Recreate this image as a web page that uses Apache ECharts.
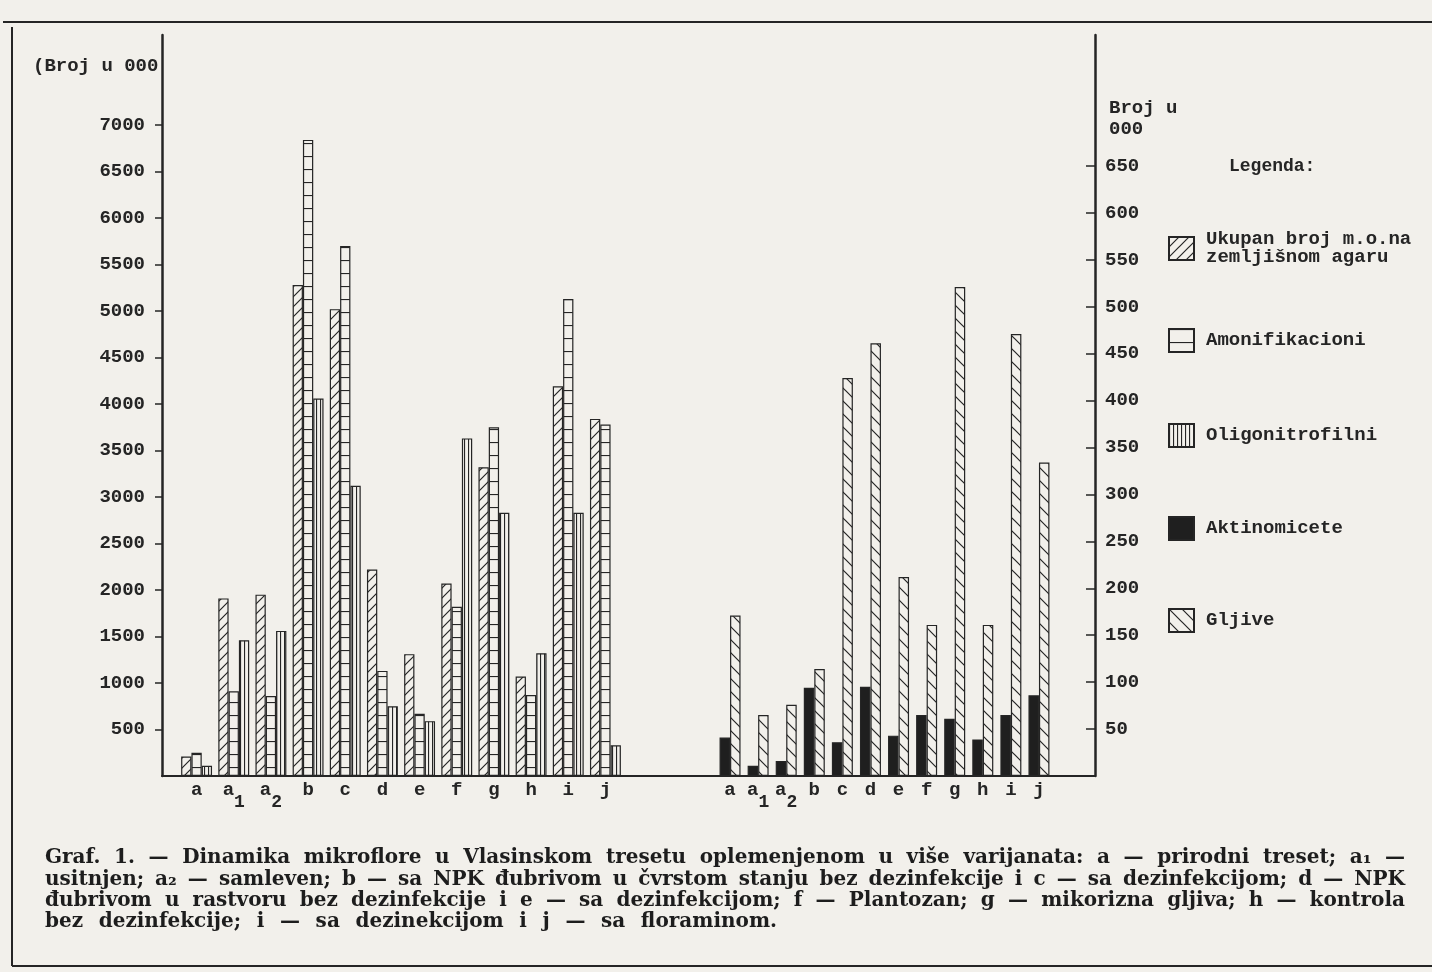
<!DOCTYPE html>
<html><head><meta charset="utf-8">
<script src="https://cdn.jsdelivr.net/npm/echarts@6/dist/echarts.min.js"></script>
<style>html,body{margin:0;padding:0;background:#f2f0eb}#c{width:1432px;height:972px}</style>
</head><body><div id="c"></div>
<script>
// ---- data ----
const categories = ['a','a1','a2','b','c','d','e','f','g','h','i','j'];
const seriesNames = ['Ukupan broj m.o.na zemljišnom agaru','Amonifikacioni','Oligonitrofilni','Aktinomicete','Gljive'];
// left panel (Broj u 000)
const ukupan  = [210,1910,1950,5280,5020,2220,1310,2070,3320,1070,4190,3840];
const amonif  = [250, 910, 860,6840,5700,1130, 670,1820,3750, 870,5130,3780];
const oligo   = [110,1460,1560,4060,3120, 750, 590,3630,2830,1320,2830, 330];
// right panel (Broj u 000)
const aktino  = [41,11,16,94,36,95,43,65,61,39,65,86];
const gljive  = [171,65,76,114,424,461,212,161,521,161,471,334];
// tick labels
const leftTicks  = [500,1000,1500,2000,2500,3000,3500,4000,4500,5000,5500,6000,6500,7000];
const rightTicks = [50,100,150,200,250,300,350,400,450,500,550,600,650];
const leftAxisName = '(Broj u 000';
const rightAxisName = 'Broj u\n000';
const legendTitle = 'Legenda:';
const captionLines = [
  'Graf. 1. — Dinamika mikroflore u Vlasinskom tresetu oplemenjenom u više varijanata: a — prirodni treset; a₁ —',
  'usitnjen; a₂ — samleven; b — sa NPK đubrivom u čvrstom stanju bez dezinfekcije i c — sa dezinfekcijom; d — NPK',
  'đubrivom u rastvoru bez dezinfekcije i e — sa dezinfekcijom; f — Plantozan; g — mikorizna gljiva; h — kontrola',
  'bez dezinfekcije; i — sa dezinekcijom i j — sa floraminom.'
];

// ---- styles ----
const INK = '#252525', BG = '#f2f0eb';
const MONO = '"Liberation Mono","DejaVu Sans Mono",monospace';
const SERIF = '"DejaVu Serif","Liberation Serif",serif';

function pat(w, h, draw) {
  const c = document.createElement('canvas');
  c.width = w; c.height = h;
  const g = c.getContext('2d');
  g.fillStyle = BG; g.fillRect(0, 0, w, h);
  g.strokeStyle = INK; g.lineWidth = 1.2;
  g.beginPath(); draw(g, w, h); g.stroke();
  return { image: c, repeat: 'repeat' };
}
const patSlash = pat(10, 10, (g, w, h) => {
  g.moveTo(-1, h + 1); g.lineTo(w + 1, -1);
  g.moveTo(-1, 1); g.lineTo(1, -1);
  g.moveTo(w - 1, h + 1); g.lineTo(w + 1, h - 1);
});
const patBack = pat(13, 13, (g, w, h) => {
  g.moveTo(-1, -1); g.lineTo(w + 1, h + 1);
  g.moveTo(w - 1, -1); g.lineTo(w + 1, 1);
  g.moveTo(-1, h - 1); g.lineTo(1, h + 1);
});
const patHoriz = pat(4, 13, (g, w, h) => { g.moveTo(0, 0.5); g.lineTo(w, 0.5); });
const patVert = pat(4, 4, (g, w, h) => { g.moveTo(0.5, 0); g.lineTo(0.5, h); });

const GRID_TOP = 35, GRID_BOTTOM = 196;
const LEFT_MAX = 7968, RIGHT_MAX = 789.6;

function catLabel(v) {
  return v.length > 1 ? '{m|' + v[0] + '}{s|' + v.slice(1) + '}' : '{m|' + v + '}';
}
const catAxisLabel = {
  interval: 0, margin: 5, formatter: catLabel,
  rich: {
    m: { fontFamily: MONO, fontWeight: 'bold', fontSize: 19, color: INK, lineHeight: 30, verticalAlign: 'top' },
    s: { fontFamily: MONO, fontWeight: 'bold', fontSize: 18, color: INK, lineHeight: 30, verticalAlign: 'bottom' }
  }
};

function barStyle(color) {
  return { color: color, borderColor: INK, borderWidth: 1.2 };
}

// ---- justified caption as graphic texts ----
const capFont = 'bold 20px ' + SERIF;
const meas = document.createElement('canvas').getContext('2d');
meas.font = capFont;
const capX0 = 45, capWidths = [1360, 1360, 1360, 732], capY = [858, 879.5, 901, 922];
const capGraphics = [];
captionLines.forEach((line, li) => {
  const words = line.split(' ');
  const ws = words.map(w => meas.measureText(w).width);
  const total = ws.reduce((a, b) => a + b, 0);
  const gap = (capWidths[li] - total) / (words.length - 1);
  let x = capX0;
  words.forEach((w, i) => {
    capGraphics.push({ type: 'text', x: x, y: capY[li], silent: true,
      style: { text: w, font: capFont, fill: '#1d1d1d', verticalAlign: 'middle' } });
    x += ws[i] + gap;
  });
});

const frameLines = [
  { type: 'line', shape: { x1: 3, y1: 22, x2: 1432, y2: 22 }, style: { stroke: INK, lineWidth: 2 } },
  { type: 'line', shape: { x1: 12, y1: 27, x2: 12, y2: 966 }, style: { stroke: INK, lineWidth: 2 } },
  { type: 'line', shape: { x1: 12, y1: 966, x2: 1432, y2: 966 }, style: { stroke: INK, lineWidth: 2 } }
];

const txt = (s) => ({ fontFamily: MONO, fontWeight: 'bold', fontSize: s, color: INK });
const plain = v => String(v);

function legendAt(name, top) {
  return {
    data: [name], orient: 'vertical', left: 1163, top: top,
    itemWidth: 25, itemHeight: 23, icon: 'rect', selectedMode: false,
    formatter: n => n.replace('m.o.na ', 'm.o.na\n'),
    textStyle: Object.assign(txt(19), { lineHeight: 18, padding: [0, 0, 0, 7] })
  };
}

const chart = echarts.init(document.getElementById('c'), null, { renderer: 'canvas' });
chart.setOption({
  backgroundColor: BG,
  animation: false,
  title: [
    { text: leftAxisName, left: 28, top: 52, textStyle: txt(19) },
    { text: rightAxisName, left: 1104, top: 93, textStyle: Object.assign(txt(19), { lineHeight: 21 }) },
    { text: legendTitle, left: 1224, top: 152, textStyle: txt(18) }
  ],
  legend: [
    legendAt(seriesNames[0], 225),
    legendAt(seriesNames[1], 323),
    legendAt(seriesNames[2], 418),
    legendAt(seriesNames[3], 511),
    legendAt(seriesNames[4], 603)
  ],
  grid: [
    { left: 162, right: 1432 - 1095, top: GRID_TOP, bottom: GRID_BOTTOM },
    { left: 178, width: 446, top: GRID_TOP, bottom: GRID_BOTTOM },
    { left: 716, width: 337, top: GRID_TOP, bottom: GRID_BOTTOM }
  ],
  xAxis: [
    { type: 'value', gridIndex: 0, min: 0, max: 1,
      axisLine: { show: true, onZero: false, lineStyle: { color: INK, width: 2 } },
      axisTick: { show: false }, axisLabel: { show: false }, splitLine: { show: false } },
    { type: 'category', gridIndex: 1, data: categories,
      axisLine: { show: false }, axisTick: { show: false }, axisLabel: catAxisLabel },
    { type: 'category', gridIndex: 2, data: categories,
      axisLine: { show: false }, axisTick: { show: false }, axisLabel: catAxisLabel }
  ],
  yAxis: [
    { type: 'value', gridIndex: 0, position: 'left', min: 0, max: LEFT_MAX,
      axisLine: { show: true, onZero: false, lineStyle: { color: INK, width: 2.5 } },
      axisTick: { show: true, inside: false, length: 7, customValues: leftTicks, lineStyle: { color: INK, width: 1.5 } },
      axisLabel: Object.assign({ customValues: leftTicks, margin: 17, formatter: plain }, txt(19)),
      splitLine: { show: false } },
    { type: 'value', gridIndex: 0, position: 'right', min: 0, max: RIGHT_MAX,
      axisLine: { show: true, onZero: false, lineStyle: { color: INK, width: 2.5 } },
      axisTick: { show: true, inside: true, length: 9, customValues: rightTicks, lineStyle: { color: INK, width: 1.5 } },
      axisLabel: Object.assign({ customValues: rightTicks, margin: 10, formatter: plain }, txt(19)),
      splitLine: { show: false } },
    { type: 'value', gridIndex: 1, min: 0, max: LEFT_MAX, show: false },
    { type: 'value', gridIndex: 2, min: 0, max: RIGHT_MAX, show: false }
  ],
  series: [
    { type: 'bar', name: seriesNames[0], xAxisIndex: 1, yAxisIndex: 2, data: ukupan,
      barWidth: 10.3, barGap: '0%', itemStyle: barStyle(patSlash) },
    { type: 'bar', name: seriesNames[1], xAxisIndex: 1, yAxisIndex: 2, data: amonif,
      barWidth: 10.3, barGap: '0%', itemStyle: barStyle(patHoriz) },
    { type: 'bar', name: seriesNames[2], xAxisIndex: 1, yAxisIndex: 2, data: oligo,
      barWidth: 10.3, barGap: '0%', itemStyle: barStyle(patVert) },
    { type: 'bar', name: seriesNames[3], xAxisIndex: 2, yAxisIndex: 3, data: aktino,
      barWidth: 10.5, barGap: '0%', itemStyle: barStyle('#1f1f1f') },
    { type: 'bar', name: seriesNames[4], xAxisIndex: 2, yAxisIndex: 3, data: gljive,
      barWidth: 10.5, barGap: '0%', itemStyle: barStyle(patBack) }
  ],
  graphic: frameLines.concat(capGraphics)
});
</script>
</body></html>
